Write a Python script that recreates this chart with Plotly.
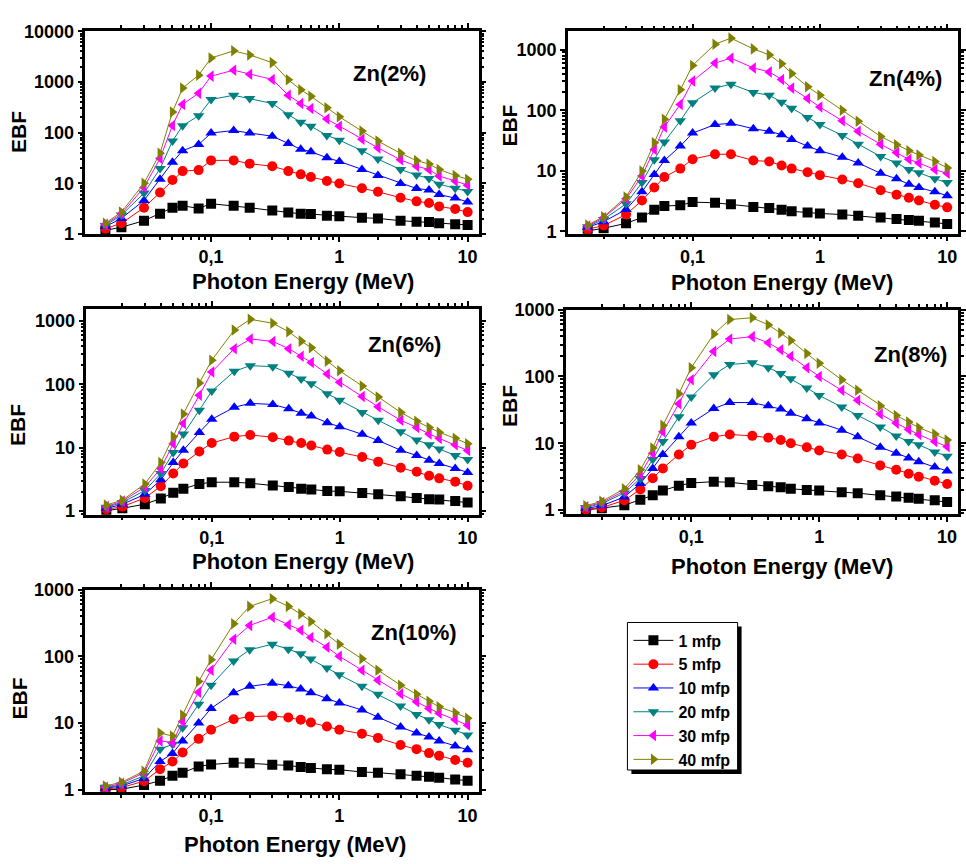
import plotly.graph_objects as go
import numpy as np

energy = [0.015, 0.02, 0.03, 0.04, 0.05, 0.06, 0.08, 0.1, 0.15, 0.2, 0.3, 0.4, 0.5,
          0.6, 0.8, 1, 1.5, 2, 3, 4, 5, 6, 8, 10]

series_names = ["1 mfp", "5 mfp", "10 mfp", "20 mfp", "30 mfp", "40 mfp"]
series_colors = ["#000000", "#FF0000", "#0000FF", "#008080", "#FF00FF", "#808000"]
series_symbols = ["square", "circle", "triangle-up", "triangle-down", "triangle-left", "triangle-right"]

panel_labels = ["Zn(2%)", "Zn(4%)", "Zn(6%)", "Zn(8%)", "Zn(10%)"]

zn2 = [
    [1.18, 1.36, 1.83, 2.5, 3.3, 3.6, 3.2, 3.96, 3.6, 3.3, 2.9, 2.65, 2.5, 2.47, 2.3, 2.25, 2.1, 2.03, 1.83, 1.75, 1.73, 1.63, 1.56, 1.51],
    [1.27, 1.63, 3.3, 6.6, 11.6, 17.4, 18.2, 28.3, 28.3, 24.4, 21.7, 17.4, 15, 13.3, 11.1, 9.9, 8.0, 6.8, 5.2, 4.4, 4.1, 3.5, 3.1, 2.7],
    [1.40, 2.03, 4.6, 12, 26, 44, 58, 98, 110, 98, 85, 61, 47, 42, 32, 27, 18.7, 14.3, 9.9, 7.9, 7.4, 6.0, 5.1, 4.3],
    [1.47, 2.36, 6.4, 19.5, 68, 137, 215, 450, 545, 470, 375, 225, 160, 134, 88, 71, 44, 30, 18.7, 14.5, 12.5, 9.6, 8.0, 6.9],
    [1.56, 2.5, 8.3, 31, 138, 360, 600, 1300, 1700, 1420, 1120, 545, 375, 300, 185, 134, 74, 50, 29, 21.7, 18.7, 13.9, 11.1, 9.2],
    [1.63, 2.7, 10, 39, 255, 755, 1360, 2960, 4100, 3400, 2400, 1100, 700, 520, 310, 205, 107, 68, 39, 28, 24, 18.7, 14.3, 12],
]
zn4 = [
    [1.02, 1.13, 1.36, 1.7, 2.29, 2.63, 2.7, 3.05, 2.97, 2.8, 2.53, 2.44, 2.29, 2.15, 2.05, 1.98, 1.9, 1.81, 1.7, 1.6, 1.54, 1.5, 1.4, 1.33],
    [1.09, 1.25, 1.9, 3.24, 5.3, 7.9, 10.9, 15.6, 18.8, 18.8, 14.8, 14.3, 12.3, 10.9, 9.5, 8.5, 7.2, 6.25, 4.8, 4.05, 3.6, 3.24, 2.76, 2.5],
    [1.17, 1.45, 2.3, 4.5, 8.7, 14.8, 25.6, 42, 58, 61, 49.5, 45, 39.6, 33, 25.6, 21.5, 16.8, 13.5, 9.1, 7.4, 6.0, 5.3, 4.5, 3.9],
    [1.2, 1.58, 2.86, 6.4, 15.2, 30, 67, 133, 232, 270, 197, 177, 136, 108, 76, 58, 38.5, 27.5, 17.3, 13.5, 10.5, 9.3, 7.4, 6.4],
    [1.23, 1.68, 3.45, 8.2, 22.6, 53, 125, 303, 600, 725, 500, 430, 323, 232, 156, 113, 67, 45, 27.5, 20, 15.5, 13.5, 10.5, 9.1],
    [1.28, 1.75, 3.7, 9.9, 29, 71, 218, 550, 1230, 1550, 1030, 820, 585, 405, 245, 177, 100, 66, 37, 27, 21.5, 18.3, 14.3, 11.2],
]
zn6 = [
    [1.01, 1.1, 1.28, 1.57, 1.94, 2.24, 2.67, 2.84, 2.84, 2.74, 2.52, 2.38, 2.24, 2.19, 2.06, 2.04, 1.92, 1.83, 1.7, 1.6, 1.53, 1.51, 1.43, 1.36],
    [1.06, 1.17, 1.6, 2.46, 3.9, 5.6, 8.7, 11.8, 14.9, 15.8, 14.6, 12.9, 11.8, 10.8, 9.3, 8.5, 7.1, 6.0, 4.8, 4.15, 3.6, 3.27, 2.9, 2.5],
    [1.1, 1.27, 1.83, 3.1, 5.8, 9.1, 17.4, 28, 43.3, 50, 48, 41, 35, 31.5, 24.8, 21.3, 16.2, 12.9, 9.1, 7.5, 6.3, 5.6, 4.7, 4.05],
    [1.14, 1.36, 2.1, 3.9, 8.4, 16.4, 39, 78, 160, 197, 190, 150, 121, 102, 71, 56, 36, 27, 17.8, 13.2, 11.1, 9.5, 7.5, 6.5],
    [1.17, 1.43, 2.38, 4.7, 11.5, 24, 67, 156, 365, 520, 475, 365, 278, 220, 145, 108, 64, 44, 27, 20.8, 16.4, 14, 11.1, 9.0],
    [1.24, 1.48, 2.67, 5.8, 14.9, 34, 105, 240, 720, 1060, 920, 675, 480, 378, 232, 163, 94, 63, 36, 26, 20.8, 17.4, 14, 11.5],
]
zn8 = [
    [1.0, 1.06, 1.18, 1.43, 1.66, 1.96, 2.32, 2.54, 2.66, 2.6, 2.38, 2.27, 2.2, 2.08, 2.0, 1.96, 1.85, 1.79, 1.66, 1.6, 1.53, 1.48, 1.4, 1.32],
    [1.02, 1.09, 1.4, 2.03, 3.0, 4.2, 6.8, 9.5, 12.5, 13.5, 12.9, 12.1, 11.2, 10, 8.7, 7.8, 6.8, 5.9, 4.66, 4.0, 3.5, 3.15, 2.75, 2.45],
    [1.06, 1.16, 1.57, 2.5, 4.2, 6.8, 12.5, 20, 33, 40.6, 40.6, 36.3, 32.5, 28, 23.2, 20, 15.7, 12.5, 8.7, 7.1, 6.0, 5.3, 4.4, 3.85],
    [1.09, 1.25, 1.8, 2.97, 5.7, 10.6, 25, 49, 106, 151, 160, 135, 111, 92, 67, 52, 35, 26, 17.5, 12.8, 10.6, 9.5, 7.4, 6.4],
    [1.12, 1.3, 1.92, 3.44, 7.1, 14.8, 39, 89, 237, 363, 394, 318, 250, 200, 135, 100, 62, 44, 27.5, 20, 16, 13.5, 10.6, 8.9],
    [1.16, 1.35, 2.08, 4.0, 8.5, 18.5, 55, 135, 430, 710, 755, 590, 445, 345, 220, 157, 89, 62, 36.5, 26, 20.8, 17.1, 13.7, 11.2],
]
zn10 = [
    [1.0, 1.02, 1.18, 1.37, 1.62, 1.81, 2.24, 2.4, 2.54, 2.5, 2.38, 2.32, 2.19, 2.12, 2.03, 2.0, 1.85, 1.81, 1.71, 1.62, 1.57, 1.52, 1.43, 1.37],
    [1.03, 1.08, 1.35, 2.03, 2.66, 3.63, 5.8, 7.95, 11.4, 12.5, 12.8, 12.1, 11.2, 10.2, 8.9, 7.95, 6.9, 6.0, 4.7, 4.07, 3.55, 3.25, 2.8, 2.54],
    [1.06, 1.14, 1.48, 2.66, 3.5, 5.4, 10, 16.6, 28.4, 35.5, 39.4, 36.3, 32.5, 28.4, 23.2, 20, 15.7, 12.2, 8.7, 7.1, 6.2, 5.4, 4.55, 3.98],
    [1.08, 1.18, 1.62, 4.07, 4.8, 8.5, 19.2, 37, 85, 125, 152, 128, 109, 91, 67, 53, 35.6, 27, 18, 13.5, 11.2, 9.5, 7.8, 6.6],
    [1.09, 1.25, 1.8, 5.4, 5.1, 10.6, 29, 62, 180, 290, 385, 297, 246, 192, 137, 100, 62, 44, 27.5, 20.8, 16.6, 14, 11.2, 9.25],
    [1.14, 1.3, 1.9, 7.1, 6.4, 13.2, 42, 89, 307, 560, 730, 560, 430, 333, 218, 152, 92, 62, 37, 27, 21.2, 17.5, 14.3, 11.8],
]
panels_data = [zn2, zn4, zn6, zn8, zn10]

W, H = 966, 864
FONT = "Liberation Sans, Arial, sans-serif"

# panel boxes in pixels: (left, right, top, bottom), y log range
boxes = [
    (86, 482, 21.7, 229.3, [0, 4]),
    (572, 965, 22, 229, [-0.037, 3.30]),
    (87, 482, 306, 516.7, [-0.06, 3.19]),
    (570, 965, 306.7, 516, [-0.06, 3.0]),
    (86, 482, 593.3, 800.7, [-0.035, 3.0]),
]
label_pos = [(392, 65), (912, 70), (407, 342), (917, 353), (417, 637)]
xtitle_pos = [(305, 278), (788, 279), (305, 565), (788, 570), (297, 854)]
ytitle_pos = [(18, 125), (513, 118), (17, 425), (513, 405), (20, 705)]

fig = go.Figure()
annotations = []
tickfont = dict(family=FONT, size=18, color="black", weight="bold")
minor = dict(ticks="outside", ticklen=3, tickwidth=1.5, tickcolor="black", showgrid=False, dtick="D1")
for p, data in enumerate(panels_data):
    ax = "" if p == 0 else str(p + 1)
    for s in range(6):
        fig.add_trace(go.Scatter(
            x=energy, y=data[s], mode="lines+markers",
            name=series_names[s], legendgroup=series_names[s],
            showlegend=(p == 0),
            line=dict(color=series_colors[s], width=1),
            marker=dict(symbol=series_symbols[s], color=series_colors[s], size=10),
            xaxis="x" + ax, yaxis="y" + ax,
        ))
    l, r, t, b, yr = boxes[p]
    xdom = [l / W, r / W]
    ydom = [1 - b / H, 1 - t / H]
    xcommon = dict(type="log", domain=xdom, range=[-1.98, 1.085],
                   tickmode="linear", tick0=0, dtick=1, exponentformat="none",
                   ticks="outside", ticklen=5, tickwidth=2, tickcolor="black",
                   showline=True, linecolor="black", linewidth=2.5, mirror="allticks",
                   showgrid=False, zeroline=False, tickfont=tickfont, minor=minor,
                   anchor="y" + ax)
    ycommon = dict(type="log", domain=ydom, range=yr,
                   tickmode="linear", tick0=0, dtick=1, exponentformat="none", tickformat="d",
                   ticks="outside", ticklen=5, tickwidth=2, tickcolor="black",
                   showline=True, linecolor="black", linewidth=2.5, mirror="allticks",
                   showgrid=False, zeroline=False, tickfont=tickfont, minor=minor,
                   anchor="x" + ax)
    fig.update_layout(**{"xaxis" + ax: xcommon, "yaxis" + ax: ycommon})

    lx, ly = label_pos[p]
    annotations.append(dict(x=lx / W, y=1 - ly / H, xref="paper", yref="paper", text=panel_labels[p],
                            showarrow=False, font=dict(family=FONT, size=22, color="black", weight="bold"),
                            xanchor="center", yanchor="middle"))
    tx, ty = xtitle_pos[p]
    annotations.append(dict(x=tx / W, y=1 - ty / H, xref="paper", yref="paper", text="Photon Energy (MeV)",
                            showarrow=False, font=dict(family=FONT, size=22, color="black", weight="bold"),
                            xanchor="center", yanchor="middle", borderpad=0))
    ex, ey = ytitle_pos[p]
    annotations.append(dict(x=ex / W, y=1 - ey / H, xref="paper", yref="paper", text="EBF", textangle=-90,
                            showarrow=False, font=dict(family=FONT, size=21, color="black", weight="bold"),
                            xanchor="center", yanchor="middle"))

# legend frame with drop shadow (drawn as shapes; plotly legend placed inside)
LB = (632, 743, 627, 778)
fig.update_layout(
    width=W, height=H, margin=dict(l=0, r=0, t=0, b=0),
    paper_bgcolor="white", plot_bgcolor="white",
    separators=",.",
    annotations=annotations,
    shapes=[
        dict(type="rect", xref="paper", yref="paper", x0=(LB[0] + 4) / W, x1=(LB[1] + 4) / W,
             y0=1 - (LB[3] + 4) / H, y1=1 - (LB[2] + 4) / H, fillcolor="black", line=dict(width=0),
             layer="below"),
        dict(type="rect", xref="paper", yref="paper", x0=LB[0] / W, x1=LB[1] / W,
             y0=1 - LB[3] / H, y1=1 - LB[2] / H, fillcolor="white", line=dict(color="black", width=1),
             layer="below"),
    ],
    legend=dict(x=(LB[0] + 1) / W, y=1 - (LB[2] + 1) / H, xanchor="left", yanchor="top",
                bgcolor="rgba(0,0,0,0)", borderwidth=0,
                font=dict(family=FONT, size=16, color="black", weight="bold"),
                itemwidth=40, tracegroupgap=0),
)
fig.write_html("out.html")
